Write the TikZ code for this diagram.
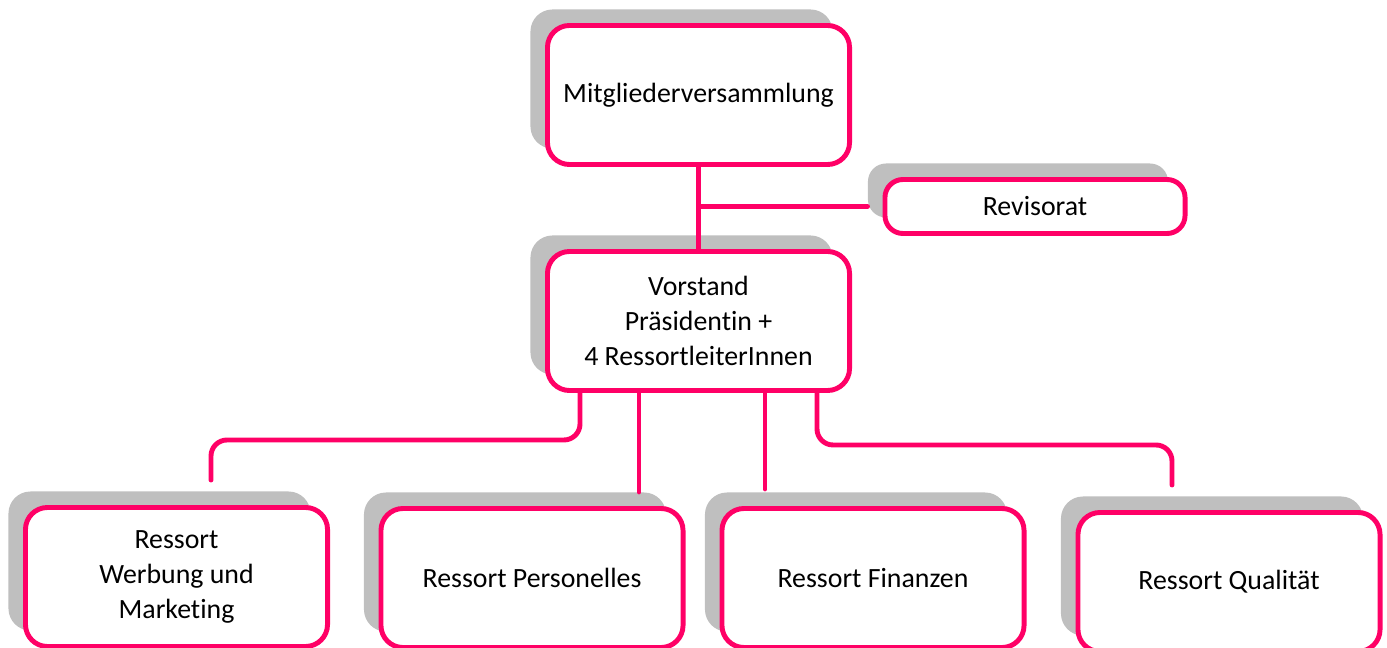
\documentclass[tikz,border=0pt]{standalone}
\usepackage{fontspec}
\setmainfont{Carlito}[Ligatures=NoCommon]
\usetikzlibrary{shadows}
\definecolor{vpink}{HTML}{FF0066}
\definecolor{vgray}{HTML}{BFBFBF}

\begin{document}
\begin{tikzpicture}[x=0.025cm,y=-0.025cm,
  box/.style={draw=vpink,line width=3.5pt,fill=white,rounded corners=0.55cm,
    minimum width=7.55cm,minimum height=3.475cm,align=center,inner sep=0pt,
    font=\fontsize{19.8}{25}\selectfont,
    general shadow={fill=vgray,shadow xshift=-0.425cm,shadow yshift=0.4cm}},
  smallbox/.style={box,minimum width=7.5cm,minimum height=1.35cm,rounded corners=0.45cm},
  link/.style={draw=vpink,line width=3.5pt,line cap=round}]
\useasboundingbox (0,0) rectangle (1387,648);

\node[box] (mv) at (698.5,95) {Mitgliederversammlung};
\node[smallbox] (rev) at (1035,206.5) {Revisorat};
\node[box] (vor) at (698.5,321) {Vorstand\\Präsidentin +\\4 RessortleiterInnen};
\node[box] (wer) at (176.5,577) {Ressort\\Werbung und\\Marketing};
\node[box] (per) at (532,578) {Ressort Personelles};
\node[box] (fin) at (873,578) {Ressort Finanzen};
\node[box] (qua) at (1229,582) {Ressort Qualität};

\coordinate (wer in) at (211,480);
\coordinate (per in) at (639,492);
\coordinate (fin in) at (765,489);
\coordinate (qua in) at (1172,485);

\path
(mv) edge[link] (vor)
(mv.south |- rev) edge[link,shorten >=0.375cm] (rev.west)
(vor.south -| per in) edge[link] (per in)
(vor.south -| fin in) edge[link] (fin in);
\draw[link,rounded corners=0.4cm] ([shift={(-118.5,0)}]vor.south) -- ++(0,47) -| (wer in);
\draw[link,rounded corners=0.4cm] ([shift={(118.5,0)}]vor.south) -- ++(0,52) -| (qua in);
\end{tikzpicture}
\end{document}
